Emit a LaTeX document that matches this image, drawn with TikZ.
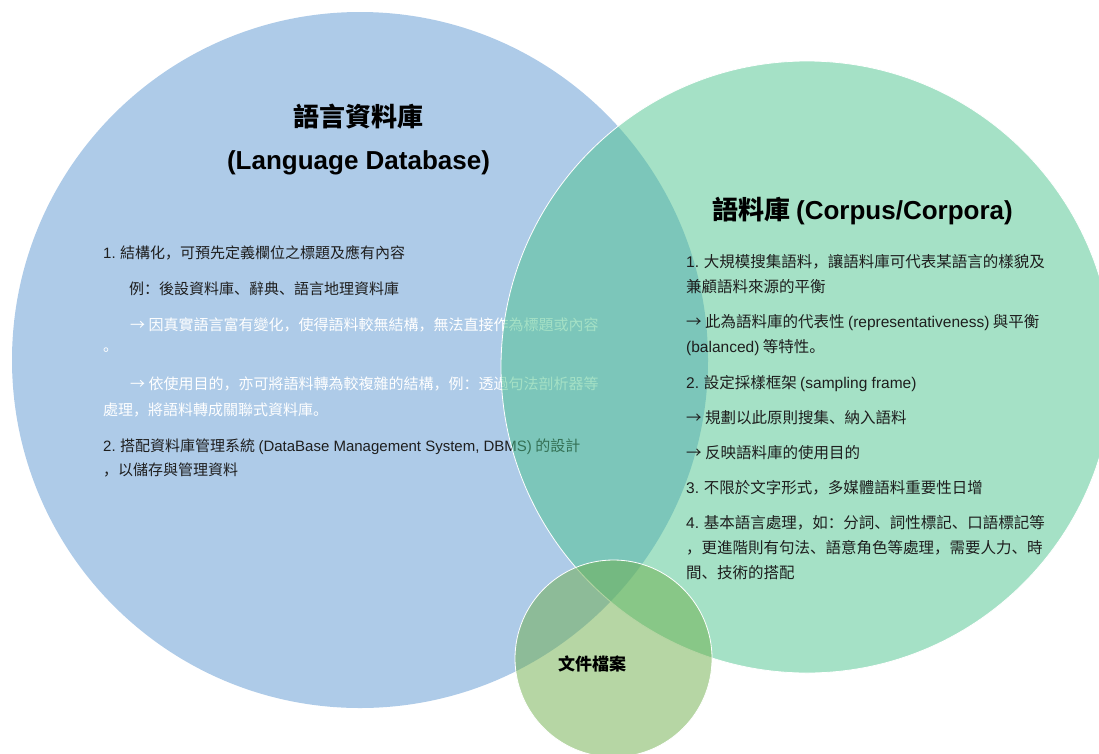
\documentclass[tikz,border=0pt]{standalone}
\usepackage{fontspec}
\setmainfont{Noto Sans CJK SC}
\newfontfamily\latf{Liberation Sans}
\newcommand\LT[1]{{\latf #1}}
\definecolor{bluefill}{RGB}{174,203,232}
\definecolor{greenfill}{RGB}{75,195,141}
\definecolor{smallfill}{RGB}{109,173,73}
\definecolor{txt}{RGB}{30,30,30}
\begin{document}
\begin{tikzpicture}[x=1pt,y=-1pt,
  lt/.style={anchor=base west, inner sep=0pt, font=\fontsize{15}{18}\selectfont, text=txt},
  ltw/.style={lt, text=white},
  rt/.style={anchor=base west, inner sep=0pt, font=\fontsize{15.5}{18}\selectfont, text=txt},
  ttl/.style={anchor=base, inner sep=0pt, font=\fontsize{26}{30}\selectfont\bfseries, text=black},
  ring/.style={draw=white, line width=0.8pt}]
\path[use as bounding box] (0,0) rectangle (1099,753);
\begin{scope}
\clip (0,0) rectangle (1099,753);
% blue circle
\fill[bluefill] (360,360) circle[radius=348];
\node[ttl] (t1) at (358,126.5) {語言資料庫};
\node[ttl] (t2) at (358.5,169) {\LT{\bfseries (Language Database)}};
\node[lt] (l1) at (103,258.5) {\LT{1.} 結構化，可預先定義欄位之標題及應有內容};
\node[lt] (l2) at (129,294.5) {例：後設資料庫、辭典、語言地理資料庫};
\node[ltw] (l3) at (130,330.5) {→ 因真實語言富有變化，使得語料較無結構，無法直接作為標題或內容};
\node[ltw] (l4) at (103,351) {。};
\node[ltw] (l5) at (130,389.5) {→ 依使用目的，亦可將語料轉為較複雜的結構，例：透過句法剖析器等};
\node[ltw] (l6) at (103,415.5) {處理，將語料轉成關聯式資料庫。};
\node[lt] (l7) at (103,451.5) {\LT{2.} 搭配資料庫管理系統 \LT{(DataBase Management System, DBMS)} 的設計};
\node[lt] (l8) at (103,475.5) {，以儲存與管理資料};
% green circle
\fill[greenfill, fill opacity=0.5] (807,367) circle[radius=306];
\draw[ring] (807,367) circle[radius=306];
\node[ttl, anchor=base west] (t3) at (712,219.5) {語料庫 \LT{\bfseries (Corpus/Corpora)}};
\node[rt] (r1) at (686,267.7) {\LT{1.} 大規模搜集語料，讓語料庫可代表某語言的樣貌及};
\node[rt] (r2) at (686,292.7) {兼顧語料來源的平衡};
\node[rt] (r3) at (686,327.7) {→ 此為語料庫的代表性 \LT{(representativeness)} 與平衡};
\node[rt] (r4) at (686,352.7) {\LT{(balanced)} 等特性。};
\node[rt] (r5) at (686,388.7) {\LT{2.} 設定採樣框架 \LT{(sampling frame)}};
\node[rt] (r6) at (686,423.7) {→ 規劃以此原則搜集、納入語料};
\node[rt] (r7) at (686,458.7) {→ 反映語料庫的使用目的};
\node[rt] (r8) at (686,493.7) {\LT{3.} 不限於文字形式，多媒體語料重要性日增};
\node[rt] (r9) at (686,528.7) {\LT{4.} 基本語言處理，如：分詞、詞性標記、口語標記等};
\node[rt] (r10) at (686,553.7) {，更進階則有句法、語意角色等處理，需要人力、時};
\node[rt] (r11) at (686,578.7) {間、技術的搭配};
% small circle
\fill[smallfill, fill opacity=0.5] (613.5,658.5) circle[radius=98.5];
\draw[ring] (613.5,658.5) circle[radius=98.5];
\node[anchor=base, inner sep=0pt, font=\fontsize{17}{20}\selectfont\bfseries, text=black] (s1) at (592,670.3) {文件檔案};
\end{scope}
\end{tikzpicture}
\end{document}
